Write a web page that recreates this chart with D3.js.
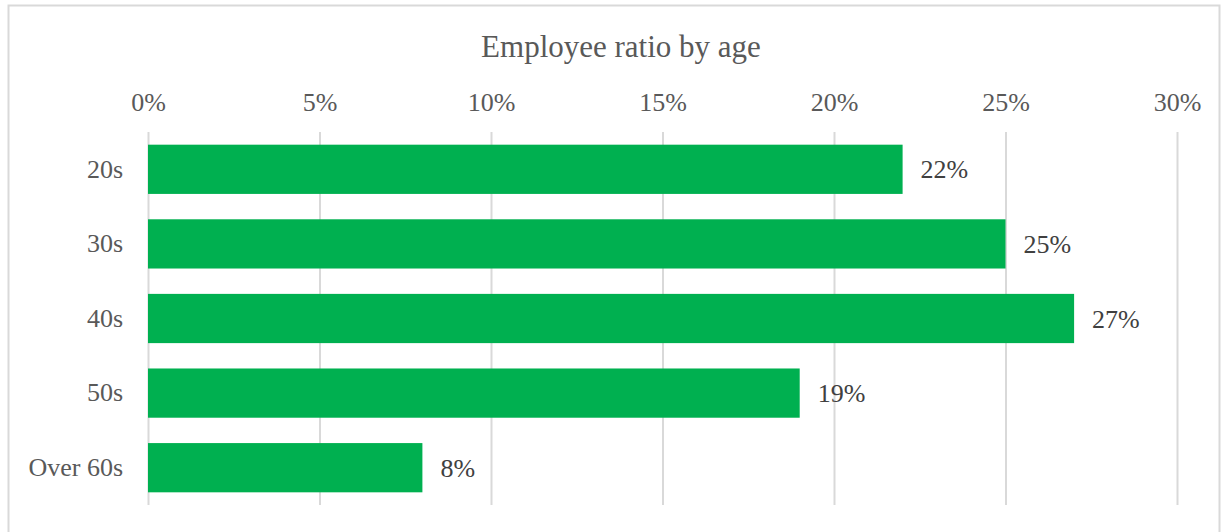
<!DOCTYPE html>
<html>
<head>
<meta charset="utf-8">
<script src="https://cdn.jsdelivr.net/npm/d3@7"></script>
<style>
  html, body { margin: 0; padding: 0; background: #fff; }
  svg { display: block; font-family: "Liberation Serif", "Times New Roman", serif; }
</style>
</head>
<body>
<script>
// data
const categories = ['20s', '30s', '40s', '50s', 'Over 60s'];
const ratios = [22, 25, 27, 19, 8]; // percent
const tickValues = [0, 5, 10, 15, 20, 25, 30];
const title = 'Employee ratio by age';

// config
const config = {
  width: 1228,
  height: 532,
  left: 148,
  right: 1177,
  top: 132,
  bottom: 505,
  barColor: '#00B050',
  gridColor: '#D9D9D9',
  textColor: '#595959',
  fontSize: 26,
};

const svg = d3.select('body').append('svg')
  .attr('width', config.width)
  .attr('height', config.height);

// chart border
svg.append('rect')
  .attr('x', 8.5).attr('y', 5.5)
  .attr('width', 1211).attr('height', 540)
  .attr('fill', 'none')
  .attr('stroke', config.gridColor)
  .attr('stroke-width', 2);

const x = d3.scaleLinear().domain([0, 30]).range([config.left, config.right]);
const y = d3.scaleBand().domain(categories).range([config.top, config.bottom]).paddingInner(0.34).paddingOuter(0.17);

// vertical gridlines
svg.append('g')
  .attr('transform', `translate(0,${config.bottom})`)
  .call(d3.axisBottom(x).tickValues(tickValues).tickSize(-(config.bottom - config.top)).tickFormat(''))
  .call(g => g.select('.domain').remove())
  .call(g => g.selectAll('line').attr('stroke', config.gridColor).attr('stroke-width', 2));

// top tick labels
svg.append('g')
  .attr('transform', 'translate(0,114)')
  .call(d3.axisTop(x).tickValues(tickValues).tickSize(0).tickFormat(d => d + '%'))
  .call(g => g.select('.domain').remove())
  .call(g => g.selectAll('text')
    .attr('font-family', '"Liberation Serif", serif')
    .attr('font-size', config.fontSize)
    .attr('fill', config.textColor));

// category labels
svg.append('g')
  .attr('transform', `translate(${config.left - 22},0)`)
  .call(d3.axisLeft(y).tickSize(0))
  .call(g => g.select('.domain').remove())
  .call(g => g.selectAll('text')
    .attr('font-family', '"Liberation Serif", serif')
    .attr('font-size', config.fontSize)
    .attr('fill', config.textColor));

// bars
svg.selectAll('.bar')
  .data(ratios)
  .enter().append('rect')
  .attr('class', 'bar')
  .attr('x', x(0))
  .attr('y', (d, i) => y(categories[i]))
  .attr('width', d => x(d) - x(0))
  .attr('height', y.bandwidth())
  .attr('fill', config.barColor);

// value labels
svg.selectAll('.value')
  .data(ratios)
  .enter().append('text')
  .attr('class', 'value')
  .attr('x', d => x(d) + 18)
  .attr('y', (d, i) => y(categories[i]) + y.bandwidth() / 2)
  .attr('dy', '0.35em')
  .attr('font-size', config.fontSize)
  .attr('fill', '#404040')
  .text(d => d + '%');

// title
svg.append('text')
  .attr('x', 621)
  .attr('y', 57)
  .attr('text-anchor', 'middle')
  .attr('font-size', 31)
  .attr('fill', config.textColor)
  .text(title);
</script>
</body>
</html>
